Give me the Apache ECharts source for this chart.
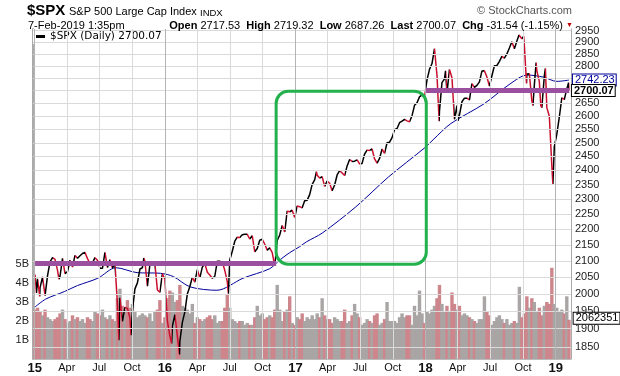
<!DOCTYPE html>
<html><head><meta charset="utf-8">
<script src="https://cdn.jsdelivr.net/npm/echarts@6/dist/echarts.min.js"></script>
<style>html,body{margin:0;padding:0;background:#fff}#c{width:620px;height:376px}</style>
</head><body><div id="c"></div>
<script>
// ---- weekly closes (Fridays) ----
const close2015 = [2058,2045,2019,2051,1995,2055,2097,2110,2105,2071,2053,2108,2061,2067,2102,2081,2117,2108,2116,2123,2126,2107,2092,2094,2110,2102,2077,2077,2127,2080,2104,2078,2092,1971,1989,1921,1961,1958,1931,1951,2015,2033,2075,2079,2099,2023,2089,2090,2092,2012,2005,2061];
const close2016 = [2044,1922,1880,1907,1940,1880,1865,1918,1948,2000,2022,2050,2035,2073,2048,2081,2092,2065,2057,2047,2053,2099,2099,2096,2071,2037,2103,2130,2162,2175,2174,2183,2184,2184,2169,2180,2128,2139,2165,2168,2153,2133,2141,2126,2085,2164,2182,2213,2192,2260,2258,2263,2239];
const close2017 = [2277,2275,2271,2295,2297,2316,2351,2367,2383,2373,2378,2344,2363,2355,2329,2349,2384,2399,2391,2382,2416,2439,2432,2433,2438,2423,2425,2459,2473,2472,2477,2441,2426,2443,2477,2461,2500,2502,2519,2549,2553,2575,2581,2588,2582,2579,2602,2642,2652,2675,2683,2674];
const close2018 = [2743,2786,2810,2873,2762,2620,2732,2747,2691,2786,2752,2588,2641,2604,2656,2670,2670,2663,2728,2713,2721,2735,2779,2780,2755,2718,2760,2801,2802,2819,2840,2833,2850,2875,2902,2872,2905,2930,2914,2886,2767,2768,2659,2723,2781,2736,2633,2760,2633,2600,2417,2486];
const close2019 = [2532,2596,2671,2665,2707];
const lastDate = '2019-02-07';
const lastClose = 2700.07;
// ---- daily extremes between the weekly points ----
const extraDates = ['2015-01-06','2015-01-15','2015-03-10','2015-08-25','2015-09-28','2015-11-03','2016-01-20','2016-02-11','2016-06-27','2017-03-01','2018-02-08','2018-02-26','2018-04-02','2018-09-20','2018-10-03','2018-10-11','2018-10-29','2018-11-07','2018-11-20','2018-12-03','2018-12-24','2019-02-06'];
const extraClose = [2003,1993,2044,1868,1882,2109,1859,1829,2001,2396,2581,2780,2582,2931,2926,2729,2641,2814,2641,2790,2351,2732];
// ---- weekly volume (billions) ----
const vol2015 = [2.6,2.7,2.5,2.3,2.6,2.2,2.1,2.0,2.1,2.2,2.4,2.6,2.1,1.9,2.0,2.3,2.1,2.2,2.0,2.1,1.9,2.2,2.1,2.0,2.5,2.4,2.3,2.6,2.2,2.1,2.3,2.1,2.0,3.2,3.7,2.8,2.6,3.1,2.7,2.9,2.5,2.2,2.3,2.4,2.3,2.2,2.4,2.0,2.5,2.6,3.1,1.9];
const vol2016 = [2.2,3.2,3.6,3.5,3.0,3.1,3.9,2.8,2.7,2.6,2.4,2.9,1.9,2.2,2.1,2.0,2.1,2.2,2.3,2.1,2.3,1.9,2.0,2.0,2.7,3.4,2.7,2.1,2.0,1.9,2.0,2.0,1.8,1.9,1.8,1.8,2.2,2.8,2.3,2.4,2.1,2.2,2.3,2.2,2.6,3.9,2.6,2.0,2.5,2.6,3.3,1.9,1.8];
const vol2017 = [2.2,2.1,2.4,2.0,2.2,2.1,2.3,2.1,2.4,2.2,3.2,2.3,2.1,2.1,1.9,2.2,2.1,2.0,2.0,2.6,1.9,2.0,2.3,2.9,2.4,2.2,1.8,1.9,2.1,2.0,1.9,2.3,2.4,1.8,1.9,2.1,3.0,2.0,2.0,2.0,1.9,2.2,2.4,2.2,2.3,2.3,1.8,2.8,2.3,3.6,2.4,1.9];
const vol2018 = [2.5,2.4,2.6,2.8,3.2,3.9,2.9,2.5,2.8,2.5,3.5,2.9,2.6,2.8,2.3,2.4,2.3,2.2,2.1,2.0,1.9,2.1,2.1,3.3,2.5,2.3,1.8,2.0,2.2,2.3,2.1,1.9,2.1,1.8,1.9,2.0,1.9,3.8,2.2,2.4,3.3,2.7,3.2,3.0,2.5,2.7,2.3,2.8,3.0,2.9,4.8,2.9];
const vol2019 = [2.7,2.5,2.6,2.4,3.3];
const lastVolume = 2.062351;
// ---- 200-day moving average ----
const maDates = ['2015-01-02','2015-02-01','2015-03-25','2015-05-01','2015-06-27','2015-08-17','2015-10-15','2015-12-20','2016-01-25','2016-03-12','2016-05-26','2016-08-07','2016-10-21','2016-11-15','2016-12-15','2017-01-12','2017-02-01','2017-03-17','2017-06-19','2017-09-19','2017-12-30','2018-01-22','2018-03-13','2018-06-14','2018-08-26','2018-10-13','2018-11-28','2019-01-04','2019-02-07'];
const maValues = [1962,1985,2007,2025,2047,2079,2064,2062,2052,2021,2011,2047,2076,2100,2125,2144,2160,2188,2274,2377,2482,2511,2572,2648,2727,2763,2754,2737,2742.23];
// ---- axis ticks ----
const priceTicks = [1850,1900,1950,2000,2050,2100,2150,2200,2250,2300,2350,2400,2450,2500,2550,2600,2650,2700,2750,2800,2850,2900,2950];
const hiddenPriceLabels = [2700,2750]; // covered by the value tags in the original
const quarterTicks = ['2015-01-01','2015-04-01','2015-07-01','2015-10-01','2016-01-01','2016-04-01','2016-07-01','2016-10-01','2017-01-01','2017-04-01','2017-07-01','2017-10-01','2018-01-01','2018-04-01','2018-07-01','2018-10-01','2019-01-01'];
const quarterLabels = ['15','Apr','Jul','Oct','16','Apr','Jul','Oct','17','Apr','Jul','Oct','18','Apr','Jul','Oct','19'];
// ---- annotations ----
const support1 = {from:'2015-01-02', to:'2016-11-08', value:2093};
const support2 = {from:'2018-01-02', to:'2019-02-08', value:2703};
const box = {from:'2016-11-08', to:'2018-01-03', top:2697, bottom:2090};

function d(s){const a=s.split('-').map(Number);return Date.UTC(a[0],a[1]-1,a[2]);}
const DAY=86400000;
const weekCloses = close2015.concat(close2016,close2017,close2018,close2019);
const weekVols = vol2015.concat(vol2016,vol2017,vol2018,vol2019);
const weekDates = [];
for(let i=0;i<weekCloses.length;i++) weekDates.push(d('2015-01-02')+i*7*DAY);
weekDates.push(d(lastDate)); weekCloses.push(lastClose); weekVols.push(lastVolume);

let pts = weekDates.map((t,i)=>[t,weekCloses[i]]);
extraDates.forEach((s,i)=>pts.push([d(s),extraClose[i]]));
pts.sort((a,b)=>a[0]-b[0]);

const RED='#c8102e', BLK='#000000';
const pieces=[{lte:pts[0][0],color:RED}];
for(let i=1;i<pts.length;i++){
  pieces.push({gt:pts[i-1][0],lte:pts[i][0],color:pts[i][1]>=pts[i-1][1]?BLK:RED});
}
pieces.push({gt:pts[pts.length-1][0],color:RED});

const FONT='Liberation Sans';
const volData = weekDates.map((t,i)=>{
  const up = i>0 && weekCloses[i]>=weekCloses[i-1];
  const item = {value:[t,weekVols[i]], itemStyle:{color: up?'#a9a5a5':'#cd868c'}};
  if(i===weekDates.length-1){
    item.label={show:true,position:['100%',0],offset:[3,-7],formatter:()=>String(Math.round(weekVols[i]*1e6)),
      color:'#000',fontSize:11,fontFamily:FONT,backgroundColor:'#fff',borderColor:'#000',borderWidth:1,padding:[0,1,0,2]};
  }
  return item;
});

const gridLines = priceTicks.map(v=>({yAxis:v,lineStyle:{color:'#dadada',width:1,type:'solid'},
  label:{show:hiddenPriceLabels.indexOf(v)<0,position:'end',distance:4,formatter:String(v),color:'#222',fontSize:11,fontFamily:FONT}}));
quarterTicks.forEach((s,i)=>{
  const yr = /^\d\d$/.test(quarterLabels[i]);
  gridLines.push({xAxis:d(s),lineStyle:{color:yr?'#b4b4b4':'#dadada',width:1,type:'solid'},
    label:{show:true,position:'start',distance:3,formatter:quarterLabels[i],color:'#111',
      fontSize:yr?13:11,fontWeight:yr?'bold':'normal',fontFamily:FONT}});
});

const chart = echarts.init(document.getElementById('c'),null,{renderer:'canvas'});
const T = (text,pos,ts)=>Object.assign({text:text,padding:0,itemGap:0,textStyle:Object.assign({color:'#000',fontWeight:'normal',fontFamily:FONT},ts)},pos);
const option = {
  animation:false,
  backgroundColor:'#fff',
  textStyle:{fontFamily:FONT},
  title:[
    T('$SPX',{left:27,top:3},{fontSize:15,fontWeight:'bold'}),
    T('S&P 500 Large Cap Index',{left:69,top:6},{fontSize:11}),
    T('INDX',{left:200,top:8},{fontSize:9.5}),
    T('© StockCharts.com',{right:48,top:5},{fontSize:11,color:'#555'}),
    T('7-Feb-2019 1:35pm',{left:28,top:20},{fontSize:11}),
    T('{b|Open} 2717.53  {b|High} 2719.32  {b|Low} 2687.26  {b|Last} 2700.07  {b|Chg} -31.54 (-1.15%)',{right:57,top:20},
      {fontSize:11,rich:{b:{fontSize:11,fontWeight:'bold',fontFamily:FONT}}}),
    T('▼',{left:566,top:22},{fontSize:7,color:'#c00000'})
  ],
  legend:{left:33,top:29,itemWidth:9,itemHeight:3,itemGap:4,padding:[2,28,2,3],backgroundColor:'#fff',
    textStyle:{fontSize:10.5,fontFamily:'DejaVu Sans',color:'#000'},
    data:[{name:'$SPX (Daily) 2700.07',icon:'rect',itemStyle:{color:'#000'}}]},
  grid:{left:33,right:49,top:29,bottom:17},
  xAxis:{type:'time',min:d('2015-01-01'),max:d('2019-02-08'),axisLabel:{show:false},axisTick:{show:false},splitLine:{show:false},
    axisLine:{show:true,lineStyle:{color:'#bbb'}}},
  yAxis:[
    {type:'log',logBase:10,min:1817,max:2957,position:'right',axisLabel:{show:false},axisTick:{show:false},splitLine:{show:false},
      axisLine:{show:true,lineStyle:{color:'#aaa'}}},
    {type:'value',min:0,max:17.37,interval:1,position:'left',splitLine:{show:false},axisTick:{show:false},
      axisLine:{show:true,lineStyle:{color:'#aaa',width:2}},
      axisLabel:{fontSize:11,color:'#222',margin:4,fontFamily:FONT,formatter:v=>(v>=1&&v<=5)?v+'B':''}}
  ],
  visualMap:{show:false,type:'piecewise',dimension:0,seriesIndex:3,pieces:pieces},
  series:[
    {name:'grid',type:'line',data:[],xAxisIndex:0,yAxisIndex:0,silent:true,z:0,
      markLine:{symbol:['none','none'],silent:true,animation:false,data:gridLines}},
    {name:'Volume',type:'bar',xAxisIndex:0,yAxisIndex:1,barWidth:3.4,data:volData,z:1,silent:true},
    {name:'MA200',type:'line',xAxisIndex:0,yAxisIndex:0,showSymbol:false,smooth:0.3,z:2,
      data:maDates.map((s,i)=>[d(s),maValues[i]]),lineStyle:{color:'#00009a',width:1},
      endLabel:{show:true,formatter:p=>p.value[1].toFixed(2),color:'#00009a',fontSize:11,fontFamily:FONT,distance:4,
        backgroundColor:'#fff',borderColor:'#00009a',borderWidth:1,padding:[0,1,0,2]}},
    {name:'$SPX (Daily) 2700.07',type:'line',xAxisIndex:0,yAxisIndex:0,showSymbol:false,z:3,data:pts,
      lineStyle:{width:1.5},
      endLabel:{show:true,formatter:p=>p.value[1].toFixed(2),color:'#000',fontWeight:'bold',fontSize:11,fontFamily:FONT,distance:3,
        backgroundColor:'#fff',borderColor:'#000',borderWidth:1,padding:[0,1,0,2]}},
    {name:'support',type:'line',data:[],xAxisIndex:0,yAxisIndex:0,silent:true,z:4,
      markLine:{symbol:['none','none'],silent:true,animation:false,label:{show:false},
        lineStyle:{color:'#9b4f9f',width:5,type:'solid'},
        data:[[{coord:[d(support1.from),support1.value]},{coord:[d(support1.to),support1.value]}],
              [{coord:[d(support2.from),support2.value]},{coord:[d(support2.to),support2.value]}]]}}
  ]
};
chart.setOption(option);
const p1 = chart.convertToPixel({seriesIndex:3},[d(box.from),box.top]);
const p2 = chart.convertToPixel({seriesIndex:3},[d(box.to),box.bottom]);
chart.setOption({graphic:[{type:'rect',z:100,silent:true,
  shape:{x:p1[0],y:p1[1],width:p2[0]-p1[0],height:p2[1]-p1[1],r:12},
  style:{fill:'none',stroke:'#22b14c',lineWidth:3}}]});
</script></body></html>
